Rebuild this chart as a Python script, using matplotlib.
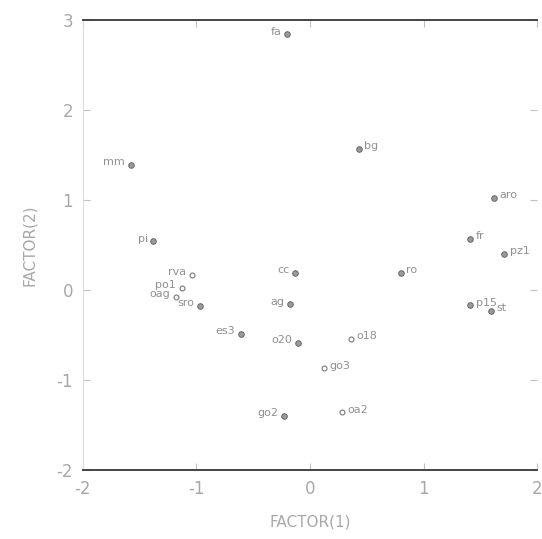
import matplotlib
matplotlib.use('Agg')
import matplotlib.pyplot as plt

# factor scores
names = ['fa', 'mm', 'pi', 'rva', 'po1', 'oag', 'sro', 'cc', 'ag', 'bg', 'aro',
         'fr', 'pz1', 'ro', 'p15', 'st', 'es3', 'o20', 'o18', 'go3', 'go2', 'oa2']
factor1 = [-0.20, -1.58, -1.38, -1.04, -1.13, -1.18, -0.97, -0.13, -0.18, 0.43, 1.62,
           1.41, 1.71, 0.80, 1.41, 1.59, -0.61, -0.11, 0.36, 0.12, -0.23, 0.28]
factor2 = [2.84, 1.39, 0.54, 0.17, 0.02, -0.08, -0.18, 0.19, -0.16, 1.57, 1.02,
           0.57, 0.40, 0.19, -0.17, -0.23, -0.49, -0.59, -0.54, -0.87, -1.40, -1.36]
open_pts = ['rva', 'po1', 'oag', 'o18', 'go3', 'oa2']
right_labels = ['bg', 'aro', 'fr', 'pz1', 'ro', 'p15', 'st', 'o18', 'go3', 'oa2']

fig = plt.figure(figsize=(5.42, 5.39), dpi=100)
ax = fig.add_axes([0.153, 0.128, 0.838, 0.835])

for n, x, y in zip(names, factor1, factor2):
    if n in open_pts:
        ax.plot(x, y, 'o', ms=3.5, mfc='white', mec='#777777', mew=0.8)
    else:
        ax.plot(x, y, 'o', ms=4, mfc='#9a9a9a', mec='#666666', mew=0.7)
    if n in right_labels:
        ax.annotate(n, (x, y), xytext=(4, 2), textcoords='offset points',
                    ha='left', va='center', fontsize=8, color='#909090')
    else:
        ax.annotate(n, (x, y), xytext=(-4, 2), textcoords='offset points',
                    ha='right', va='center', fontsize=8, color='#909090')

ax.set_xlim(-2, 2)
ax.set_ylim(-2, 3)
ax.set_xticks([-2, -1, 0, 1, 2])
ax.set_yticks([-2, -1, 0, 1, 2, 3])
ax.set_xticklabels(['-2', '-1', '0', '1', '2'])
ax.set_yticklabels(['-2', '-1', '0', '1', '2', '3'])
ax.tick_params(direction='in', length=5, width=0.8, color='#c0c0c0',
               labelcolor='#a8a8a8', labelsize=12, top=True, right=True, pad=7)

ax.spines['top'].set_color('#444444')
ax.spines['bottom'].set_color('#444444')
ax.spines['top'].set_linewidth(1.4)
ax.spines['bottom'].set_linewidth(1.4)
ax.spines['left'].set_color('#dddddd')
ax.spines['right'].set_visible(False)

ax.set_xlabel('FACTOR(1)', color='#a8a8a8', fontsize=11, labelpad=12)
ax.set_ylabel('FACTOR(2)', color='#a8a8a8', fontsize=11, labelpad=14)

fig.savefig('out.png', dpi=100)
